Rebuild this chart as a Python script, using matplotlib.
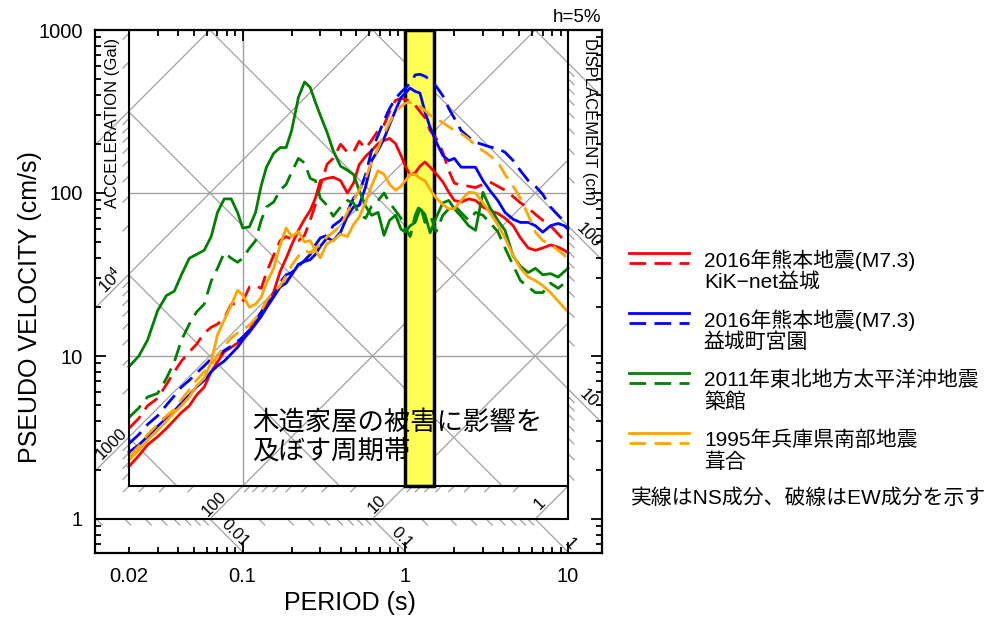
import numpy as np
import matplotlib
matplotlib.use("Agg")
import matplotlib.pyplot as plt
from matplotlib.patches import Polygon, Rectangle
from matplotlib.lines import Line2D
from matplotlib.ticker import NullFormatter

plt.rcParams["font.family"] = ["Liberation Sans", "Noto Sans CJK JP"]
plt.rcParams["mathtext.default"] = "regular"

# =========================================================
# Data (period in s, pseudo velocity in cm/s)
# =========================================================

period = [0.02, 0.023, 0.026, 0.03, 0.034, 0.038, 0.042, 0.047, 0.052, 0.058,
          0.064, 0.07, 0.077, 0.085, 0.093, 0.1, 0.11, 0.12, 0.13, 0.14,
          0.155, 0.17, 0.185, 0.2, 0.22, 0.24, 0.26, 0.28, 0.3, 0.33,
          0.36, 0.4, 0.44, 0.48, 0.52, 0.57, 0.62, 0.68, 0.74, 0.8,
          0.87, 0.94, 1.0, 1.07, 1.15, 1.23, 1.32, 1.42, 1.55, 1.7,
          1.85, 2.0, 2.2, 2.45, 2.7, 3.0, 3.3, 3.7, 4.1, 4.6,
          5.1, 5.7, 6.3, 7.0, 7.8, 8.7, 9.5, 10.0]

# 2016 Kumamoto, KiK-net Mashiki
mashiki_ns = [2.1, 2.45, 2.85, 3.2, 3.6, 4.05, 4.5, 4.95, 5.75, 6.45,
              8, 9.2, 10.6, 11.3, 12, 13.1, 14.4, 16.6, 18.6, 20.5,
              24.7, 33, 39.8, 48, 59, 69, 78, 93, 119, 123,
              125, 119, 100, 115, 149, 168, 182, 201, 210, 216,
              201, 170, 146, 129, 133, 146, 155, 144, 131, 117,
              101, 90, 88, 92, 90, 82, 78, 75, 70, 63,
              53, 46, 44.5, 46, 48, 46.5, 44.5, 43]
mashiki_ew = [3.6, 4.15, 4.95, 5.5, 6.7, 8, 9.3, 10.6, 11.8, 13.8,
              15, 15.7, 17, 20.8, 21, 21.5, 26.5, 27, 26, 32.5,
              41.5, 51, 54, 52, 51, 55, 68, 85, 110, 150,
              163, 199, 178, 178, 208, 188, 210, 242, 262, 315,
              370, 380, 375, 365, 345, 316, 290, 242, 216, 178,
              137, 115, 112, 110, 108, 113, 117, 110, 104, 95,
              87, 81, 74, 68, 63, 56, 51, 48.5]

# 2016 Kumamoto, Mashiki-machi Miyazono
miyazono_ns = [2.57, 2.85, 3.2, 3.7, 4.15, 4.6, 5.15, 5.75, 6.45, 7.1,
               8, 8.7, 9.3, 10.3, 11.3, 12.5, 14, 15.7, 17.5, 19.7,
               23, 26.5, 28, 31.5, 36.5, 38, 39, 42, 47, 53,
               51, 57.5, 72, 82, 84, 109, 158, 183, 216, 262,
               321, 385, 410, 440, 420, 410, 315, 253, 205, 170,
               158, 163, 144, 144, 144, 119, 104, 90, 76, 69,
               66, 66, 63, 57.5, 63, 65, 63, 60]
miyazono_ew = [2.9, 3.3, 3.8, 4.3, 5, 5.7, 6.45, 7.1, 7.85, 8.7,
               9.6, 10.1, 10.8, 11.5, 12.3, 13, 14.4, 16.1, 18.6, 20.5,
               23.3, 28.3, 31.5, 32.5, 35.5, 38.6, 42, 48, 53, 55,
               63, 68, 77, 93, 101, 130, 182, 226, 279, 330,
               380, 415, 440, 470, 530, 535, 520, 495, 450, 395,
               330, 288, 242, 220, 205, 198, 192, 187, 178, 158,
               137, 119, 110, 98, 82, 73, 67, 63]

# 2011 Tohoku, Tsukidate
tsukidate_ns = [8.6, 10, 12.5, 19, 23.5, 25, 31.5, 39.8, 42, 44.5,
                54, 76, 92, 92, 76, 61, 62, 76, 111, 144,
                175, 190, 190, 242, 385, 480, 445, 360, 300, 236,
                182, 146, 138, 130, 104, 83, 73, 76, 55, 68,
                73, 60, 57.5, 63, 66, 80, 74, 57, 71, 87,
                90, 80, 72, 63, 59, 101, 82, 68, 59, 41,
                35.5, 32.5, 34.5, 31.5, 32, 30.5, 33, 34.5]
tsukidate_ew = [4.2, 4.8, 5.6, 5.9, 7.3, 9.2, 12.5, 15.7, 18.6, 20.8,
                28.8, 34.5, 43, 39.8, 37.6, 39.8, 45.8, 51, 68, 82,
                88, 104, 113, 134, 163, 153, 123, 119, 93, 84,
                72, 82, 90, 87, 74, 70, 83, 90, 100, 87,
                78, 70, 61, 54, 73, 85, 66, 73, 58, 73,
                80, 84, 76, 68, 76, 73, 66, 58, 46, 36,
                29, 26.5, 24.5, 24.5, 28, 26, 28, 28.7]

# 1995 Hyogo-ken Nanbu, Fukiai
fukiai_ns = [2.3, 2.65, 3.05, 3.5, 4, 4.5, 4.95, 5.6, 6.55, 7.3,
             9.2, 13.5, 16.6, 20.5, 25.3, 23.7, 19.9, 20.8, 23, 28,
             34.5, 48, 61, 54, 58, 50, 51, 44.5, 40, 49,
             51, 56, 54, 64, 71, 88, 111, 137, 130, 113,
             104, 110, 119, 130, 130, 123, 119, 105, 93, 85,
             80, 80, 90, 101, 100, 87, 76, 64, 53, 41.5,
             34.5, 30.5, 29, 27, 24.5, 21.7, 19.7, 18.6]
fukiai_ew = [2.4, 2.8, 3.3, 3.8, 4.3, 4.7, 5.4, 6.2, 7.1, 8,
             8.8, 10, 11.5, 12.9, 13.8, 14.4, 15.5, 17, 19, 21.9,
             24.7, 27, 31, 36, 41, 44.5, 43, 46, 48, 54,
             57.5, 63, 76, 90, 104, 123, 155, 188, 232, 270,
             315, 340, 356, 360, 356, 340, 321, 300, 285, 270,
             255, 242, 232, 215, 195, 182, 170, 155, 130, 110,
             93, 73, 57.5, 51, 48.5, 44.5, 41.5, 38.6]

series_ns = [mashiki_ns, miyazono_ns, tsukidate_ns, fukiai_ns]
series_ew = [mashiki_ew, miyazono_ew, tsukidate_ew, fukiai_ew]
series_colors = ["#ff0000", "#0000ff", "#008000", "#ffa500"]
legend_quake = ["2016年熊本地震(M7.3)", "2016年熊本地震(M7.3)",
                "2011年東北地方太平洋沖地震", "1995年兵庫県南部地震"]
legend_site = ["KiK−net益城", "益城町宮園", "築館", "葺合"]

band_period = [1.0, 1.5]

accel_left_labels = [1e4, 1e3]
accel_bottom_labels = [100, 10, 1]
disp_right_labels = [100, 10]
disp_bottom_labels = [0.01, 0.1, 1]

# =========================================================
# Frame geometry
# =========================================================

T_LEFT, T_RIGHT = 0.02, 10.0
V_BOTTOM, V_TOP = 1.6, 1000.0
x_lo = 10 ** (np.log10(T_LEFT) - 34 / 162.7)
x_hi = 10 ** (np.log10(T_RIGHT) + 34 / 162.7)
y_lo = 10 ** (-34 / 163.0)
two_pi = 2 * np.pi
gray = "#a0a0a0"
dash = (0, (6, 3))

fig = plt.figure(figsize=(9.91, 6.21), dpi=100)
ax = fig.add_axes([95 / 991, 68 / 621, 507 / 991, 523 / 621])
ax.set_xscale("log")
ax.set_yscale("log")
ax.set_xlim(x_lo, x_hi)
ax.set_ylim(y_lo, V_TOP)
ax.autoscale(False)

# =========================================================
# Tripartite diagonal grid
# =========================================================

acc_clip = Rectangle((x_lo, 1.0), T_RIGHT - x_lo, V_TOP - 1.0,
                     transform=ax.transData)
disp_clip = Polygon([(T_LEFT, V_TOP), (x_hi, V_TOP), (x_hi, y_lo),
                     (x_lo, y_lo), (x_lo, 1.0), (T_RIGHT, 1.0),
                     (T_RIGHT, V_BOTTOM), (T_LEFT, V_BOTTOM)],
                    closed=True, transform=ax.transData)

t_span = np.array([1e-3, 1e2])
for k in range(-1, 7):
    a = 10.0 ** k
    ln, = ax.plot(t_span, a * t_span / two_pi, color=gray, lw=0.9, zorder=1)
    ln.set_clip_path(acc_clip)
for k in range(-4, 5):
    d = 10.0 ** k
    ln, = ax.plot(t_span, two_pi * d / t_span, color=gray, lw=0.9, zorder=1)
    ln.set_clip_path(disp_clip)

# minor hatches along the frame
step = 10 ** (6 / 163.0)
minor_vals = [m * 10.0 ** k for k in range(-4, 7) for m in range(2, 10)]
for a in minor_vals:
    v = a * T_LEFT / two_pi
    if V_BOTTOM < v < V_TOP:
        ax.plot([T_LEFT, T_LEFT / step], [v, v / step], color=gray, lw=0.9, zorder=1)
    t = two_pi * V_BOTTOM / a
    if T_LEFT < t < T_RIGHT:
        ax.plot([t, t / step], [V_BOTTOM, V_BOTTOM / step], color=gray, lw=0.9, zorder=1)
for d in minor_vals:
    t = two_pi * d
    if x_lo < t < T_RIGHT:
        ax.plot([t, t * step], [1.0, 1.0 / step], color=gray, lw=0.9, zorder=1)
    v = two_pi * d / T_RIGHT
    if V_BOTTOM < v < V_TOP:
        ax.plot([T_RIGHT, T_RIGHT * step], [v, v / step], color=gray, lw=0.9, zorder=1)

# orthogonal grid inside the inner box
for t in [0.1, 1.0]:
    ax.plot([t, t], [V_BOTTOM, V_TOP], color=gray, lw=1.0, zorder=1)
for v in [10, 100]:
    ax.plot([T_LEFT, T_RIGHT], [v, v], color=gray, lw=1.0, zorder=1)

# diagonal labels
for a in accel_left_labels:
    s = r"$\mathregular{10^4}$" if a == 1e4 else f"{a:g}"
    ax.text(0.0168, a * 0.0168 / two_pi, s, rotation=45, rotation_mode="anchor",
            ha="center", va="bottom", fontsize=12, zorder=3)
for a in accel_bottom_labels:
    ax.text(two_pi * 1.15 / a, 1.15, f"{a:g}", rotation=45, rotation_mode="anchor",
            ha="center", va="bottom", fontsize=12, zorder=3)
for d in disp_right_labels:
    ax.text(12.4, two_pi * d / 12.4, f"{d:g}", rotation=-45, rotation_mode="anchor",
            ha="center", va="bottom", fontsize=12, zorder=3)
for d, v in zip(disp_bottom_labels, [0.755, 0.71, 0.655]):
    ax.text(two_pi * d / v, v, f"{d:g}", rotation=-45, rotation_mode="anchor",
            ha="center", va="bottom", fontsize=12, zorder=3)

ax.text(0.0158, 893, "ACCELERATION (Gal)", rotation=90, ha="center", va="top",
        fontsize=12, zorder=3)
ax.text(13.5, 893, "DISPLACEMENT (cm)", rotation=-90, ha="center", va="top",
        fontsize=12, zorder=3)

# =========================================================
# Period band and spectra
# =========================================================

ax.add_patch(Rectangle((band_period[0], V_BOTTOM), band_period[1] - band_period[0],
                       V_TOP - V_BOTTOM, facecolor="#ffff55", edgecolor="black",
                       lw=2.5, zorder=2))

for ns, ew, c in zip(series_ns, series_ew, series_colors):
    ax.plot(period, ns, color=c, lw=2.0, zorder=4)
    ax.plot(period, ew, color=c, lw=2.0, ls=dash, zorder=4)

ax.text(0.115, 3.2, "木造家屋の被害に影響を\n及ぼす周期帯", fontsize=19,
        ha="left", va="center", linespacing=1.25, zorder=5)

# frame lines
ax.plot([T_LEFT, T_LEFT], [V_BOTTOM, V_TOP], color="black", lw=1.5, zorder=5)
ax.plot([T_LEFT, T_RIGHT], [V_BOTTOM, V_BOTTOM], color="black", lw=1.5, zorder=5)
ax.plot([T_RIGHT, T_RIGHT], [1.0, V_TOP], color="black", lw=1.5, zorder=5)
ax.plot([x_lo, T_RIGHT], [1.0, 1.0], color="black", lw=1.5, zorder=5)

# =========================================================
# Axes ticks
# =========================================================

for sp in ax.spines.values():
    sp.set_linewidth(1.6)

x_minor = [m * 10.0 ** k for k in (-2, -1, 0) for m in range(2, 10)]
ax.set_xticks([0.1, 1, 10], labels=["0.1", "1", "10"])
ax.set_xticks(x_minor, labels=["0.02" if abs(t - 0.02) < 1e-9 else "" for t in x_minor],
              minor=True)
y_minor = [0.7, 0.8, 0.9] + [m * 10.0 ** k for k in (0, 1, 2) for m in range(2, 10)]
ax.set_yticks([1, 10, 100, 1000], labels=["1", "10", "100", "1000"])
ax.set_yticks(y_minor, minor=True)
ax.yaxis.set_minor_formatter(NullFormatter())

ax.tick_params(which="both", direction="in", top=True, right=True, width=1.3,
               labelsize=14.5)
ax.tick_params(which="major", length=8)
ax.tick_params(which="minor", length=4)
ax.tick_params(axis="x", which="both", pad=10)
ax.tick_params(axis="y", which="both", pad=9)

fig.text(30 / 991, 1 - 307 / 621, "PSEUDO VELOCITY (cm/s)", rotation=90,
         ha="center", va="center", fontsize=18)
fig.text(350 / 991, 1 - 603 / 621, "PERIOD (s)", ha="center", va="center", fontsize=18)
fig.text(601 / 991, 1 - 18 / 621, "h=5%", ha="right", va="center", fontsize=13.5)

# =========================================================
# Legend (drawn by hand, outside the axes)
# =========================================================

for i, (c, quake, site) in enumerate(zip(series_colors, legend_quake, legend_site)):
    y0 = 252.7 + 60 * i
    fig.add_artist(Line2D([629 / 991, 689 / 991], [1 - y0 / 621] * 2,
                          color=c, lw=2.0, transform=fig.transFigure))
    fig.add_artist(Line2D([629 / 991, 689 / 991], [1 - (y0 + 10.5) / 621] * 2,
                          color=c, lw=2.0, ls=dash, transform=fig.transFigure))
    fig.text(704 / 991, 1 - (y0 + 7) / 621, quake, ha="left", va="center", fontsize=15)
    fig.text(704 / 991, 1 - (y0 + 29.5) / 621, site, ha="left", va="center", fontsize=15)

fig.text(631 / 991, 1 - 498 / 621, "実線はNS成分、破線はEW成分を示す",
         ha="left", va="center", fontsize=15)

fig.savefig("out.png", dpi=100)
